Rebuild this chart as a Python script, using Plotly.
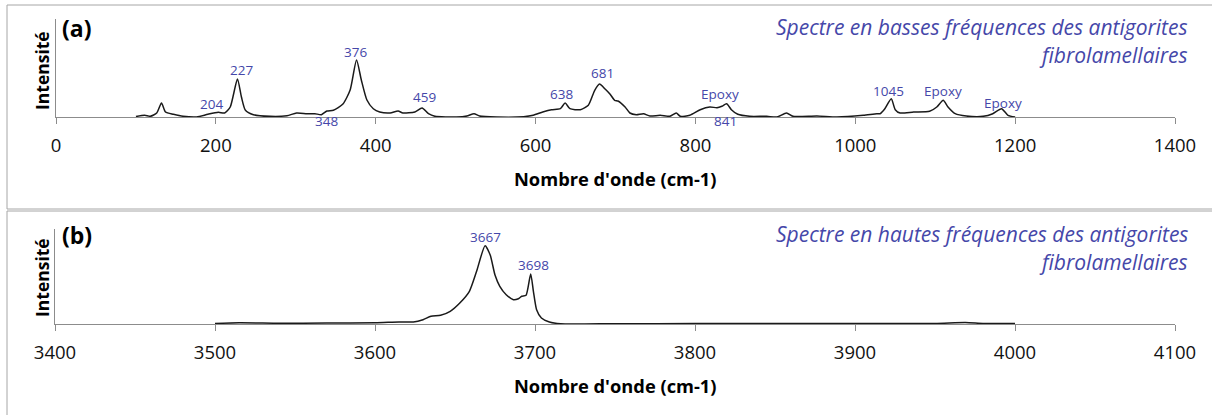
import plotly.graph_objects as go

# ---------------- data ----------------
# (a) low-frequency spectrum
wn_low = [100, 111, 118, 126, 132, 137, 147, 159, 176, 190, 203, 211, 218, 227, 232, 237, 247,
          268, 289, 301, 314, 324, 332, 339, 347, 359, 368, 376, 382, 389, 397, 405, 418, 428,
          434, 449, 458, 466, 474, 501, 514, 523, 530, 551, 585, 597, 609, 620, 631, 637, 643,
          656, 666, 674, 680, 687, 693, 699, 703, 712, 718, 726, 735, 743, 756, 768, 776, 781,
          793, 806, 818, 827, 833, 839, 845, 853, 868, 889, 902, 914, 922, 952, 977, 1010, 1027,
          1031, 1037, 1045, 1050, 1056, 1073, 1093, 1102, 1110, 1116, 1125, 1139, 1160, 1172,
          1183, 1191, 1200]
int_low = [0.5, 1.7, 0.7, 4, 14, 5, 2.7, 0.7, 0, 2.7, 4.7, 4, 10, 38, 20, 6.7, 2.3,
           0.7, 1.3, 4, 3.3, 3.3, 2.3, 6, 6.7, 13, 27, 57, 37, 17, 8.3, 5, 4, 6,
           4, 5, 9, 3.3, 0.7, 0, 1, 3.3, 1, 0, 0.3, 1.7, 5, 7.3, 8.3, 14, 8.3,
           7.3, 11.7, 26.7, 33, 28, 23, 16.7, 16, 10, 4, 2.3, 3.3, 1, 1.7, 0.7, 4, 0.7,
           1.7, 7.3, 10, 9.3, 10.7, 13.3, 7.3, 2.7, 0.7, 0.7, 0, 4, 0.7, 1, 0, 1.7, 3.3,
           3.3, 8.3, 18.3, 7.3, 4, 5, 5.7, 10, 16.7, 10, 3.3, 1, 0.7, 3.3,
           8.3, 1.7, 0]
# (b) high-frequency spectrum
wn_high = [3500, 3515, 3540, 3570, 3600, 3615, 3624, 3630, 3635, 3641, 3647, 3653, 3659, 3663.5,
           3668.8, 3672, 3675, 3678, 3682, 3686.5, 3689.6, 3691.7, 3694.4, 3697.3, 3699, 3701,
           3704, 3709, 3716, 3750, 3800, 3850, 3900, 3950, 3969, 3980, 4000]
int_high = [0.5, 1.2, 0.8, 0.9, 1.2, 2, 2, 4.3, 7.7, 8.7, 12.7, 21, 32.7, 52.7,
            78.3, 69, 49, 37.7, 29.3, 24.3, 25.3, 27.7, 28.7, 50, 32.7, 14.3,
            6, 2, 0.2, 0.3, 0.4, 0.5, 0.6, 0.6, 1.5, 0.6, 0.4]

# peak labels: text, wavenumber position, height position (in intensity units)
lab_low_text = ["204", "227", "376", "348", "459", "638", "681", "Epoxy", "841", "1045", "Epoxy", "Epoxy"]
lab_low_x = [194, 231.5, 375, 339, 461.6, 633, 684, 830.7, 837, 1041, 1110, 1185]
lab_low_y = [13, 47, 65, -4, 20, 23, 44, 23, -4, 26, 26, 14]
lab_high_text = ["3667", "3698"]
lab_high_x = [3668.75, 3698.75]
lab_high_y = [87, 59]

ticks_low = [0, 200, 400, 600, 800, 1000, 1200, 1400]
ticks_high = [3400, 3500, 3600, 3700, 3800, 3900, 4000, 4100]

# ---------------- figure ----------------
W, H = 1212, 415
def px(x):
    return x / W
def py(y):
    return 1 - y / H

BLUE = "#4547A9"
GRAY = "#8C8C8C"
FONT = "Open Sans"

# y-axis placements (pixel rows of axis bottom / top) and ranges
A_BOT, A_TOP, A_MAX = 117, 19, 98
B_BOT, B_TOP, B_MAX = 324, 229, 95

fig = go.Figure()
fig.add_trace(go.Scatter(x=wn_low, y=int_low, mode="lines", xaxis="x", yaxis="y",
                         line=dict(color="#1a1a1a", width=1.5, shape="spline", smoothing=0.6),
                         showlegend=False, hoverinfo="skip"))
fig.add_trace(go.Scatter(x=wn_high, y=int_high, mode="lines", xaxis="x2", yaxis="y2",
                         line=dict(color="#1a1a1a", width=1.5, shape="spline", smoothing=0.6),
                         showlegend=False, hoverinfo="skip"))

xax_common = dict(showgrid=False, zeroline=False, showline=True, linecolor=GRAY, linewidth=1,
                  ticks="outside", ticklen=6, tickcolor=GRAY, tickwidth=1, automargin=False,
                  tickfont=dict(family=FONT, size=18.5, color="#111"), ticklabelstandoff=6)
yax_common = dict(showgrid=False, zeroline=False, showline=True, linecolor=GRAY, linewidth=1,
                  showticklabels=False, ticks="", automargin=False)

fig.update_layout(
    width=W, height=H, margin=dict(l=0, r=0, t=0, b=0, autoexpand=False),
    paper_bgcolor="white", plot_bgcolor="white",
    xaxis=dict(domain=[px(56), px(1175)], range=[0, 1400], tickvals=ticks_low,
               anchor="y", **xax_common),
    yaxis=dict(domain=[py(A_BOT), py(A_TOP)], range=[0, A_MAX], anchor="x", **yax_common),
    xaxis2=dict(domain=[px(55), px(1175)], range=[3400, 4100], tickvals=ticks_high,
                anchor="y2", **xax_common),
    yaxis2=dict(domain=[py(B_BOT), py(B_TOP)], range=[0, B_MAX], anchor="x2", **yax_common),
)

# panel borders
fig.add_shape(type="rect", xref="paper", yref="paper", x0=px(7), x1=px(1215), y0=py(209), y1=py(5),
              line=dict(color="#A6A6A6", width=1), layer="below")
fig.add_shape(type="rect", xref="paper", yref="paper", x0=px(7), x1=px(1215), y0=py(420), y1=py(211),
              line=dict(color="#A6A6A6", width=1), layer="below")

def yd_to_paper(v, bot, top, vmax):
    # intensity value -> paper fraction (so labels below the axis are not hidden)
    return py(bot - v * (bot - top) / vmax)

ann = []
for t, x, y in zip(lab_low_text, lab_low_x, lab_low_y):
    ann.append(dict(text=t, x=x, y=yd_to_paper(y, A_BOT, A_TOP, A_MAX), xref="x", yref="paper",
                    showarrow=False, font=dict(family=FONT, size=13.5, color=BLUE),
                    xanchor="center", yanchor="middle"))
for t, x, y in zip(lab_high_text, lab_high_x, lab_high_y):
    ann.append(dict(text=t, x=x, y=yd_to_paper(y, B_BOT, B_TOP, B_MAX), xref="x2", yref="paper",
                    showarrow=False, font=dict(family=FONT, size=13.5, color=BLUE),
                    xanchor="center", yanchor="middle"))

for yoff, letter, l1 in [(0, "(a)", "Spectre en basses fréquences des antigorites"),
                         (207, "(b)", "Spectre en hautes fréquences des antigorites")]:
    ann.append(dict(text="<b>%s</b>" % letter, x=px(60), y=py(28 + yoff), xref="paper", yref="paper",
                    showarrow=False, xanchor="left", yanchor="middle",
                    font=dict(family=FONT, size=23, color="#000")))
    ann.append(dict(text="<b>Intensité</b>", x=px(42), y=py(71 + yoff), xref="paper", yref="paper",
                    showarrow=False, textangle=-90, xanchor="center", yanchor="middle",
                    font=dict(family=FONT, size=17.5, color="#000")))
    ann.append(dict(text="<b>Nombre d'onde (cm-1)</b>", x=px(615), y=py(178 + yoff), xref="paper",
                    yref="paper", showarrow=False, xanchor="center", yanchor="middle",
                    font=dict(family=FONT, size=18.3, color="#000")))
    ann.append(dict(text="<i>%s</i>" % l1, x=px(1190), y=py(27 + yoff), xref="paper", yref="paper",
                    showarrow=False, xanchor="right", yanchor="middle",
                    font=dict(family=FONT, size=21, color=BLUE)))
    ann.append(dict(text="<i>fibrolamellaires</i>", x=px(1190), y=py(55 + yoff), xref="paper",
                    yref="paper", showarrow=False, xanchor="right", yanchor="middle",
                    font=dict(family=FONT, size=21, color=BLUE)))

fig.update_layout(annotations=ann)
fig.write_html("out.html", config={"displayModeBar": False},
               post_script="document.body.style.margin='0';")
